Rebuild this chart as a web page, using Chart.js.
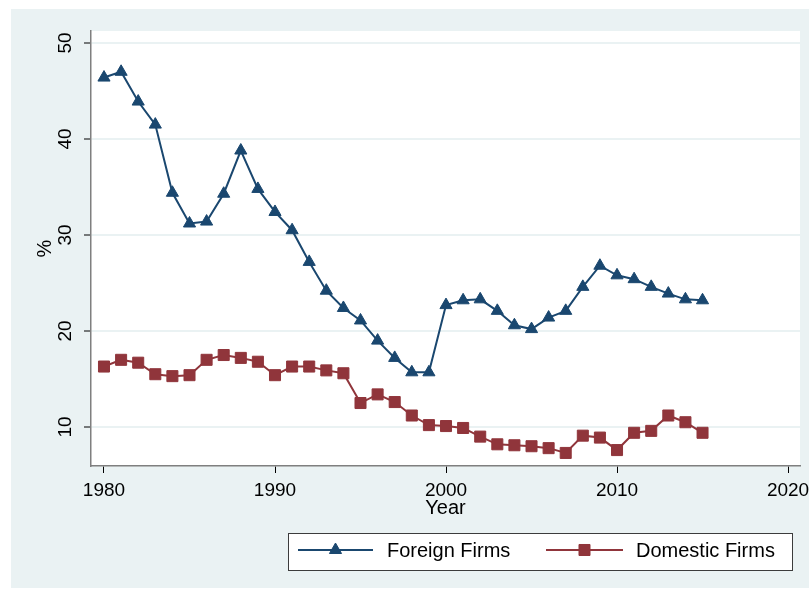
<!DOCTYPE html>
<html lang="en">
  <head>
    <meta charset="utf-8" />
    <title>Foreign vs Domestic Firms</title>
    <style>
      html, body { margin: 0; padding: 0; background: #ffffff; }
      #wrap { width: 809px; height: 589px; }
    </style>
  </head>
  <body>
    <div id="wrap"><canvas id="chart" width="809" height="589"></canvas></div>
    <script src="https://cdn.jsdelivr.net/npm/chart.js@4.4.0/dist/chart.umd.min.js"></script>
    <script>
      const years = [1980, 1981, 1982, 1983, 1984, 1985, 1986, 1987, 1988, 1989,
        1990, 1991, 1992, 1993, 1994, 1995, 1996, 1997, 1998, 1999,
        2000, 2001, 2002, 2003, 2004, 2005, 2006, 2007, 2008, 2009,
        2010, 2011, 2012, 2013, 2014, 2015];
      const foreign = [46.4, 47.0, 43.9, 41.5, 34.4, 31.2, 31.4, 34.3, 38.8, 34.8,
        32.4, 30.5, 27.2, 24.2, 22.4, 21.1, 19.0, 17.2, 15.7, 15.7,
        22.7, 23.2, 23.3, 22.1, 20.6, 20.2, 21.4, 22.1, 24.6, 26.8,
        25.8, 25.4, 24.6, 23.9, 23.3, 23.2];
      const domestic = [16.3, 17.0, 16.7, 15.5, 15.3, 15.4, 17.0, 17.5, 17.2, 16.8,
        15.4, 16.3, 16.3, 15.9, 15.6, 12.5, 13.4, 12.6, 11.2, 10.2,
        10.1, 9.9, 9.0, 8.2, 8.1, 8.0, 7.8, 7.3, 9.1, 8.9,
        7.6, 9.4, 9.6, 11.2, 10.5, 9.4];
      const xTicks = [1980, 1990, 2000, 2010, 2020];
      const yTicks = [10, 20, 30, 40, 50];
      const seriesNames = ['Foreign Firms', 'Domestic Firms'];

      const navy = '#1a476f';
      const maroon = '#90353b';
      const bg = '#eaf2f3';
      const fontFamily = '"Liberation Sans", Arial, sans-serif';

      // light stata-style background + white plot region
      const backdrop = {
        id: 'backdrop',
        beforeDraw(chart) {
          const ctx = chart.ctx;
          const a = chart.chartArea;
          ctx.save();
          ctx.fillStyle = '#ffffff';
          ctx.fillRect(0, 0, chart.width, chart.height);
          ctx.fillStyle = bg;
          ctx.fillRect(11, 9, chart.width - 11, 579);
          ctx.fillStyle = '#ffffff';
          ctx.fillRect(a.left, a.top, a.right - a.left, a.bottom - a.top);
          ctx.restore();
        }
      };

      // boxed legend with line + marker like the original
      const boxLegend = {
        id: 'boxLegend',
        afterDraw(chart) {
          const ctx = chart.ctx;
          ctx.save();
          ctx.fillStyle = '#ffffff';
          ctx.fillRect(288, 533, 505, 37);
          ctx.strokeStyle = '#3c3c3c';
          ctx.lineWidth = 1;
          ctx.strokeRect(288.5, 533.5, 504, 37);
          const items = [
            { x0: 298, x1: 373, tx: 387, ds: chart.data.datasets[0] },
            { x0: 546, x1: 623, tx: 636, ds: chart.data.datasets[1] }
          ];
          const y = 550;
          items.forEach(it => {
            ctx.strokeStyle = it.ds.borderColor;
            ctx.lineWidth = 2;
            ctx.beginPath();
            ctx.moveTo(it.x0, y);
            ctx.lineTo(it.x1, y);
            ctx.stroke();
            ctx.fillStyle = it.ds.pointBackgroundColor;
            ctx.strokeStyle = it.ds.pointBorderColor;
            ctx.lineWidth = 1;
            Chart.helpers.drawPoint(ctx, {
              pointStyle: it.ds.pointStyle,
              radius: it.ds.pointRadius,
              rotation: 0,
              borderWidth: 1
            }, (it.x0 + it.x1) / 2, y);
            ctx.fillStyle = '#000000';
            ctx.font = '20px ' + fontFamily;
            ctx.textBaseline = 'middle';
            ctx.textAlign = 'left';
            ctx.fillText(it.ds.label, it.tx, y + 1);
          });
          ctx.restore();
        }
      };

      const lineoptions = {
        borderWidth: 2,
        pointBorderWidth: 1,
        tension: 0,
        fill: false
      };

      const config = {
        type: 'line',
        data: {
          datasets: [{
            label: seriesNames[0],
            data: years.map((yr, i) => ({ x: yr, y: foreign[i] })),
            borderColor: navy,
            pointBackgroundColor: navy,
            pointBorderColor: navy,
            pointStyle: 'triangle',
            pointRadius: 7,
            ...lineoptions
          }, {
            label: seriesNames[1],
            data: years.map((yr, i) => ({ x: yr, y: domestic[i] })),
            borderColor: maroon,
            pointBackgroundColor: maroon,
            pointBorderColor: maroon,
            pointStyle: 'rect',
            pointRadius: 7.8,
            ...lineoptions
          }]
        },
        options: {
          responsive: false,
          animation: false,
          devicePixelRatio: 1,
          layout: { padding: { left: 11, top: 31, right: 9, bottom: 0 } },
          plugins: {
            legend: { display: false },
            tooltip: { enabled: false }
          },
          scales: {
            x: {
              type: 'linear',
              min: 1979.24,
              max: 2020.7,
              afterBuildTicks: s => { s.ticks = xTicks.map(v => ({ value: v })); },
              afterFit: s => { s.height = 123; s.paddingLeft = 0; s.paddingRight = 0; },
              border: { display: true, color: '#7f7f7f', width: 1.5 },
              grid: {
                drawOnChartArea: false,
                drawTicks: true,
                tickLength: 7,
                tickColor: '#000000',
                tickWidth: 1
              },
              ticks: {
                autoSkip: false,
                maxRotation: 0,
                padding: 6,
                color: '#000000',
                font: { family: fontFamily, size: 19 },
                callback: v => String(v)
              },
              title: {
                display: true,
                text: 'Year',
                color: '#000000',
                font: { family: fontFamily, size: 20 },
                padding: { top: 0, bottom: 69 }
              }
            },
            y: {
              min: 5.94,
              max: 51.25,
              afterBuildTicks: s => { s.ticks = yTicks.map(v => ({ value: v })); },
              afterFit: s => { s.width = 80; s.paddingTop = 0; s.paddingBottom = 0; },
              border: { display: true, color: '#7f7f7f', width: 1.5 },
              grid: {
                color: bg,
                lineWidth: 2,
                drawTicks: true,
                tickLength: 7,
                tickColor: '#000000',
                tickWidth: 1
              },
              ticks: {
                autoSkip: false,
                minRotation: 90,
                maxRotation: 90,
                crossAlign: 'center',
                padding: 8,
                color: '#000000',
                font: { family: fontFamily, size: 19 },
                callback: v => String(v)
              },
              title: {
                display: true,
                text: '%',
                color: '#000000',
                font: { family: fontFamily, size: 20 },
                padding: { top: 22, bottom: 0 }
              }
            }
          }
        },
        plugins: [backdrop, boxLegend]
      };

      Chart.defaults.font.family = fontFamily;
      const chart = new Chart(document.getElementById('chart'), config);
    </script>
  </body>
</html>
